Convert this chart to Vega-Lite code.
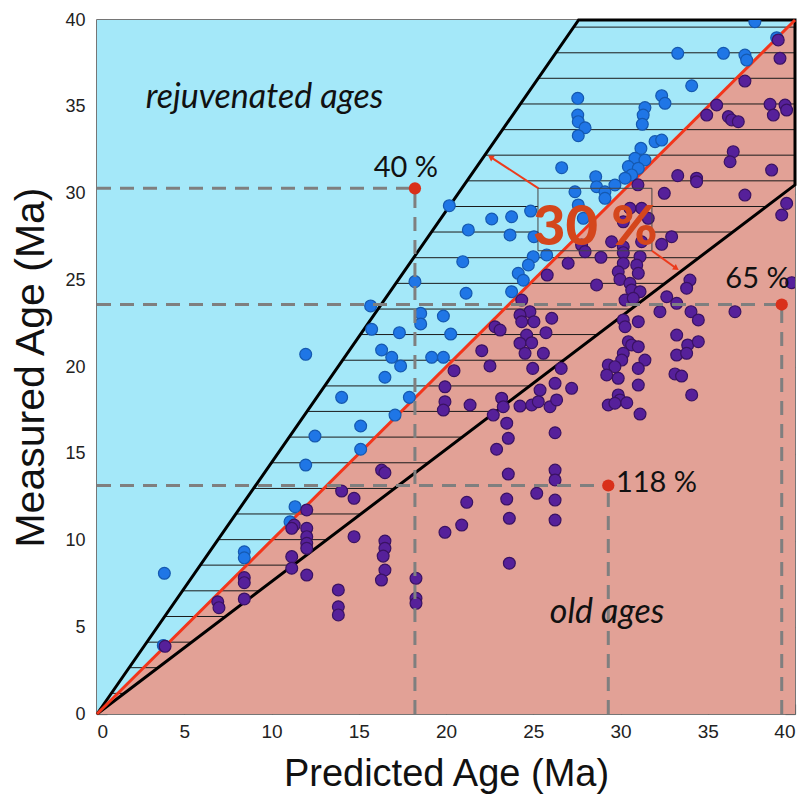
{
  "$schema": "https://vega.github.io/schema/vega-lite/v6.json",
  "width": 698,
  "height": 694,
  "autosize": {"type": "none"},
  "padding": {"left": 97, "top": 20, "right": 8, "bottom": 83},
  "background": "white",
  "config": {"view": {"stroke": "#4a4a4a", "strokeWidth": 1.5}},
  "datasets": {
    "pts": [
      {"x":3.86,"y":8.11,"g":"r"},{"x":3.8,"y":3.95,"g":"r"},{"x":8.44,"y":9.35,"g":"r"},{"x":8.44,"y":9.0,"g":"r"},{"x":11.35,"y":11.95,"g":"r"},{"x":11.06,"y":11.08,"g":"r"},
      {"x":11.96,"y":20.73,"g":"r"},{"x":12.49,"y":16.02,"g":"r"},{"x":11.96,"y":14.35,"g":"r"},{"x":20.96,"y":26.07,"g":"r"},{"x":18.22,"y":24.92,"g":"r"},{"x":21.15,"y":24.25,"g":"r"},
      {"x":15.68,"y":23.52,"g":"r"},{"x":18.55,"y":23.09,"g":"r"},{"x":18.55,"y":22.48,"g":"r"},{"x":19.85,"y":22.94,"g":"r"},{"x":15.74,"y":22.17,"g":"r"},{"x":17.33,"y":21.98,"g":"r"},
      {"x":20.27,"y":21.9,"g":"r"},{"x":16.31,"y":20.98,"g":"r"},{"x":16.89,"y":20.56,"g":"r"},{"x":17.4,"y":20.06,"g":"r"},{"x":19.18,"y":20.56,"g":"r"},{"x":19.85,"y":20.56,"g":"r"},
      {"x":16.5,"y":19.41,"g":"r"},{"x":14.02,"y":18.25,"g":"r"},{"x":17.9,"y":18.25,"g":"r"},{"x":17.08,"y":17.23,"g":"r"},{"x":15.11,"y":16.6,"g":"r"},{"x":15.11,"y":15.26,"g":"r"},
      {"x":25.0,"y":26.36,"g":"r"},{"x":25.77,"y":26.46,"g":"r"},{"x":24.72,"y":25.88,"g":"r"},{"x":24.14,"y":25.4,"g":"r"},{"x":24.43,"y":25.0,"g":"r"},{"x":23.76,"y":24.34,"g":"r"},
      {"x":20.19,"y":29.3,"g":"r"},{"x":22.62,"y":28.53,"g":"r"},{"x":23.76,"y":28.66,"g":"r"},{"x":24.85,"y":28.99,"g":"r"},{"x":21.28,"y":27.9,"g":"r"},{"x":23.67,"y":27.61,"g":"r"},
      {"x":25.04,"y":27.51,"g":"r"},{"x":26.63,"y":31.49,"g":"r"},{"x":37.7,"y":39.9,"g":"r"},{"x":33.28,"y":38.08,"g":"r"},{"x":35.9,"y":38.08,"g":"r"},{"x":37.13,"y":37.98,"g":"r"},
      {"x":37.23,"y":37.69,"g":"r"},{"x":38.95,"y":38.98,"g":"r"},{"x":34.08,"y":36.21,"g":"r"},{"x":27.55,"y":35.49,"g":"r"},{"x":32.36,"y":35.64,"g":"r"},{"x":32.55,"y":35.2,"g":"r"},
      {"x":31.4,"y":34.95,"g":"r"},{"x":31.3,"y":34.52,"g":"r"},{"x":31.25,"y":33.99,"g":"r"},{"x":27.55,"y":34.52,"g":"r"},{"x":27.58,"y":34.14,"g":"r"},{"x":27.97,"y":33.79,"g":"r"},
      {"x":27.58,"y":33.33,"g":"r"},{"x":31.98,"y":32.99,"g":"r"},{"x":32.36,"y":33.08,"g":"r"},{"x":31.17,"y":32.6,"g":"r"},{"x":30.83,"y":32.03,"g":"r"},{"x":31.4,"y":31.93,"g":"r"},
      {"x":30.45,"y":31.55,"g":"r"},{"x":31.02,"y":31.45,"g":"r"},{"x":30.64,"y":31.07,"g":"r"},{"x":30.26,"y":30.88,"g":"r"},{"x":28.58,"y":30.97,"g":"r"},{"x":28.63,"y":30.39,"g":"r"},
      {"x":29.11,"y":30.1,"g":"r"},{"x":29.68,"y":30.49,"g":"r"},{"x":29.11,"y":29.72,"g":"r"},{"x":27.39,"y":30.1,"g":"r"},{"x":27.58,"y":29.34,"g":"r"},{"x":27.87,"y":28.57,"g":"r"},
      {"x":3.9,"y":3.9,"g":"o"},{"x":8.44,"y":7.86,"g":"o"},{"x":8.44,"y":7.57,"g":"o"},{"x":8.44,"y":6.63,"g":"o"},{"x":6.92,"y":6.47,"g":"o"},{"x":6.99,"y":6.13,"g":"o"},
      {"x":12.02,"y":11.76,"g":"o"},{"x":11.3,"y":10.89,"g":"o"},{"x":11.16,"y":10.7,"g":"o"},{"x":12.02,"y":10.7,"g":"o"},{"x":12.02,"y":10.22,"g":"o"},{"x":12.02,"y":9.84,"g":"o"},
      {"x":12.02,"y":9.55,"g":"o"},{"x":11.16,"y":9.07,"g":"o"},{"x":11.16,"y":8.4,"g":"o"},{"x":12.02,"y":8.01,"g":"o"},{"x":14.02,"y":12.85,"g":"o"},{"x":14.73,"y":12.43,"g":"o"},
      {"x":14.73,"y":10.22,"g":"o"},{"x":16.5,"y":9.97,"g":"o"},{"x":16.5,"y":9.55,"g":"o"},{"x":16.4,"y":9.1,"g":"o"},{"x":16.5,"y":8.3,"g":"o"},{"x":16.3,"y":7.72,"g":"o"},
      {"x":13.83,"y":7.15,"g":"o"},{"x":13.83,"y":6.18,"g":"o"},{"x":13.83,"y":5.71,"g":"o"},{"x":18.28,"y":7.82,"g":"o"},{"x":18.28,"y":6.67,"g":"o"},{"x":18.28,"y":6.38,"g":"o"},
      {"x":21.19,"y":12.2,"g":"o"},{"x":19.94,"y":10.47,"g":"o"},{"x":20.9,"y":10.89,"g":"o"},{"x":23.48,"y":12.39,"g":"o"},{"x":23.63,"y":11.28,"g":"o"},{"x":23.63,"y":8.69,"g":"o"},
      {"x":25.2,"y":12.72,"g":"o"},{"x":26.25,"y":12.33,"g":"o"},{"x":26.25,"y":11.18,"g":"o"},{"x":26.25,"y":14.06,"g":"o"},{"x":26.25,"y":13.49,"g":"o"},{"x":25.8,"y":25.3,"g":"o"},
      {"x":24.34,"y":23.86,"g":"o"},{"x":24.81,"y":23.19,"g":"o"},{"x":24.24,"y":23.0,"g":"o"},{"x":24.34,"y":22.61,"g":"o"},{"x":25.04,"y":22.61,"g":"o"},{"x":26.06,"y":22.81,"g":"o"},
      {"x":22.81,"y":22.32,"g":"o"},{"x":23.1,"y":22.13,"g":"o"},{"x":24.62,"y":21.84,"g":"o"},{"x":24.24,"y":21.37,"g":"o"},{"x":24.91,"y":21.4,"g":"o"},{"x":24.53,"y":20.79,"g":"o"},
      {"x":25.73,"y":21.98,"g":"o"},{"x":22.05,"y":20.94,"g":"o"},{"x":22.52,"y":20.06,"g":"o"},{"x":20.46,"y":19.79,"g":"o"},{"x":24.97,"y":19.92,"g":"o"},{"x":25.58,"y":20.79,"g":"o"},
      {"x":26.6,"y":19.92,"g":"o"},{"x":19.94,"y":18.86,"g":"o"},{"x":19.94,"y":18.0,"g":"o"},{"x":19.85,"y":17.52,"g":"o"},{"x":21.38,"y":17.81,"g":"o"},{"x":23.19,"y":18.2,"g":"o"},
      {"x":23.28,"y":17.71,"g":"o"},{"x":22.71,"y":17.23,"g":"o"},{"x":24.24,"y":17.75,"g":"o"},{"x":24.91,"y":17.81,"g":"o"},{"x":25.39,"y":18.67,"g":"o"},{"x":25.29,"y":18.0,"g":"o"},
      {"x":25.96,"y":17.71,"g":"o"},{"x":26.25,"y":19.06,"g":"o"},{"x":26.34,"y":18.1,"g":"o"},{"x":23.48,"y":16.76,"g":"o"},{"x":23.57,"y":15.89,"g":"o"},{"x":22.9,"y":15.26,"g":"o"},
      {"x":26.25,"y":16.21,"g":"o"},{"x":16.31,"y":14.06,"g":"o"},{"x":16.5,"y":13.91,"g":"o"},{"x":23.57,"y":13.83,"g":"o"},{"x":39.04,"y":38.85,"g":"o"},{"x":39.14,"y":37.79,"g":"o"},
      {"x":37.13,"y":36.48,"g":"o"},{"x":35.51,"y":35.1,"g":"o"},{"x":34.94,"y":34.52,"g":"o"},{"x":36.18,"y":34.43,"g":"o"},{"x":36.37,"y":34.24,"g":"o"},{"x":36.75,"y":34.14,"g":"o"},
      {"x":38.57,"y":35.14,"g":"o"},{"x":38.76,"y":34.52,"g":"o"},{"x":39.43,"y":35.1,"g":"o"},{"x":39.52,"y":34.81,"g":"o"},{"x":36.46,"y":32.41,"g":"o"},{"x":36.28,"y":31.83,"g":"o"},
      {"x":38.66,"y":31.35,"g":"o"},{"x":33.28,"y":31.03,"g":"o"},{"x":34.36,"y":30.88,"g":"o"},{"x":34.36,"y":30.68,"g":"o"},{"x":32.51,"y":30.01,"g":"o"},{"x":37.13,"y":29.91,"g":"o"},
      {"x":39.52,"y":29.43,"g":"o"},{"x":39.24,"y":28.76,"g":"o"},{"x":31.0,"y":30.5,"g":"o"},{"x":31.21,"y":29.15,"g":"o"},{"x":31.59,"y":28.57,"g":"o"},{"x":30.54,"y":29.15,"g":"o"},
      {"x":30.16,"y":28.37,"g":"o"},{"x":29.49,"y":27.22,"g":"o"},{"x":30.16,"y":26.93,"g":"o"},{"x":31.21,"y":27.22,"g":"o"},{"x":32.36,"y":27.07,"g":"o"},{"x":32.93,"y":27.51,"g":"o"},
      {"x":27.77,"y":27.03,"g":"o"},{"x":27.0,"y":25.98,"g":"o"},{"x":27.97,"y":26.65,"g":"o"},{"x":28.88,"y":26.32,"g":"o"},{"x":30.16,"y":26.59,"g":"o"},{"x":30.16,"y":25.98,"g":"o"},
      {"x":29.87,"y":25.49,"g":"o"},{"x":29.97,"y":25.05,"g":"o"},{"x":31.12,"y":26.36,"g":"o"},{"x":30.93,"y":25.88,"g":"o"},{"x":31.02,"y":25.4,"g":"o"},{"x":30.54,"y":24.82,"g":"o"},
      {"x":30.64,"y":24.44,"g":"o"},{"x":31.12,"y":24.34,"g":"o"},{"x":30.26,"y":23.86,"g":"o"},{"x":30.73,"y":23.96,"g":"o"},{"x":28.63,"y":24.73,"g":"o"},{"x":33.98,"y":25.01,"g":"o"},
      {"x":33.79,"y":24.54,"g":"o"},{"x":32.65,"y":24.05,"g":"o"},{"x":33.22,"y":23.67,"g":"o"},{"x":32.26,"y":23.19,"g":"o"},{"x":34.04,"y":23.19,"g":"o"},{"x":34.46,"y":22.71,"g":"o"},
      {"x":36.56,"y":23.19,"g":"o"},{"x":39.81,"y":24.86,"g":"o"},{"x":30.16,"y":22.71,"g":"o"},{"x":30.26,"y":22.32,"g":"o"},{"x":31.02,"y":22.61,"g":"o"},{"x":30.45,"y":21.46,"g":"o"},
      {"x":30.64,"y":21.27,"g":"o"},{"x":31.02,"y":21.17,"g":"o"},{"x":30.16,"y":20.79,"g":"o"},{"x":30.07,"y":20.4,"g":"o"},{"x":31.4,"y":20.4,"g":"o"},{"x":31.02,"y":19.92,"g":"o"},
      {"x":29.3,"y":20.12,"g":"o"},{"x":29.68,"y":20.02,"g":"o"},{"x":29.21,"y":19.54,"g":"o"},{"x":29.87,"y":19.35,"g":"o"},{"x":31.02,"y":18.96,"g":"o"},{"x":29.87,"y":18.39,"g":"o"},
      {"x":29.97,"y":18.1,"g":"o"},{"x":29.3,"y":17.81,"g":"o"},{"x":29.68,"y":17.91,"g":"o"},{"x":30.36,"y":17.94,"g":"o"},{"x":31.12,"y":17.29,"g":"o"},{"x":27.2,"y":18.77,"g":"o"},
      {"x":33.22,"y":21.84,"g":"o"},{"x":33.85,"y":21.27,"g":"o"},{"x":34.46,"y":21.46,"g":"o"},{"x":33.22,"y":20.69,"g":"o"},{"x":33.79,"y":20.79,"g":"o"},{"x":33.12,"y":19.6,"g":"o"},
      {"x":33.5,"y":19.48,"g":"o"},{"x":34.08,"y":18.39,"g":"o"}
    ],
    "hatch": [
      {"y":1.19,"xa":0.82,"xb":1.56},{"y":2.67,"xa":1.84,"xb":3.5},{"y":4.14,"xa":2.86,"xb":5.43},{"y":5.62,"xa":3.88,"xb":7.37},
      {"y":7.1,"xa":4.9,"xb":9.31},{"y":8.58,"xa":5.92,"xb":11.25},{"y":10.05,"xa":6.93,"xb":13.18},{"y":11.53,"xa":7.96,"xb":15.12},
      {"y":13.0,"xa":8.97,"xb":17.05},{"y":14.48,"xa":9.99,"xb":18.99},{"y":15.96,"xa":11.01,"xb":20.93},{"y":17.44,"xa":12.03,"xb":22.87},
      {"y":18.91,"xa":13.05,"xb":24.8},{"y":20.39,"xa":14.07,"xb":26.74},{"y":21.87,"xa":15.09,"xb":28.68},{"y":23.34,"xa":16.1,"xb":30.61},
      {"y":24.82,"xa":17.13,"xb":32.55},{"y":26.3,"xa":18.15,"xb":34.49},{"y":27.78,"xa":19.17,"xb":25.27},{"y":27.78,"xa":31.8,"xb":36.43},
      {"y":29.25,"xa":20.18,"xb":25.27},{"y":29.25,"xa":31.8,"xb":38.36},{"y":30.73,"xa":21.2,"xb":40},{"y":32.21,"xa":22.22,"xb":40},
      {"y":33.68,"xa":23.24,"xb":40},{"y":35.16,"xa":24.26,"xb":40},{"y":36.64,"xa":25.28,"xb":40},{"y":38.11,"xa":26.3,"xb":40},{"y":39.59,"xa":27.32,"xb":40}
    ]
  },
  "layer": [
    {
      "layer": [
        {
          "data": {"values": [{"x": 0, "y": 0}, {"x": 40, "y": 40}]},
          "mark": {"type": "area", "color": "#a4e8f9", "opacity": 1},
          "encoding": {
            "x": {"field": "x", "type": "quantitative", "scale": {"domain": [0, 40], "nice": false},
              "axis": {"values": [0,5,10,15,20,25,30,35,40], "title": "Predicted Age (Ma)", "grid": false, "domain": false,
                "tickSize": -10, "tickColor": "#666", "tickWidth": 1.2, "labelFont": "Liberation Sans", "labelFontSize": 19,
                "labelColor": "#222", "labelPadding": 18, "titleFont": "Liberation Sans", "titleFontSize": 38,
                "titleFontWeight": "normal", "titleColor": "#111", "titlePadding": 14}},
            "y": {"field": "y", "type": "quantitative", "scale": {"domain": [0, 40], "nice": false},
              "axis": {"values": [0,5,10,15,20,25,30,35,40], "title": "Measured Age (Ma)", "grid": false, "domain": false,
                "tickSize": -10, "tickColor": "#666", "tickWidth": 1.2, "labelFont": "Liberation Sans", "labelFontSize": 18,
                "labelColor": "#222", "labelPadding": 22, "titleFont": "Liberation Sans", "titleFontSize": 41,
                "titleFontWeight": "normal", "titleColor": "#111", "titlePadding": 12}},
            "y2": {"datum": 40}
          }
        },
        {
          "data": {"values": [{"x": 0, "y": 0}, {"x": 40, "y": 40}]},
          "mark": {"type": "area", "color": "#e2a196", "opacity": 1},
          "encoding": {
            "x": {"field": "x", "type": "quantitative"},
            "y": {"field": "y", "type": "quantitative"},
            "y2": {"datum": 0}
          }
        },
        {
          "data": {"name": "hatch"},
          "mark": {"type": "rule", "color": "#1a1a1a", "strokeWidth": 1},
          "encoding": {
            "x": {"field": "xa", "type": "quantitative"},
            "x2": {"field": "xb"},
            "y": {"field": "y", "type": "quantitative"}
          }
        },
        {
          "data": {"values": [{"x": 0, "y": 0, "o": 1}, {"x": 27.6, "y": 40, "o": 2}, {"x": 40, "y": 40, "o": 3}, {"x": 40, "y": 30.5, "o": 4}, {"x": 0, "y": 0, "o": 5}]},
          "mark": {"type": "line", "color": "#000", "strokeWidth": 3},
          "encoding": {
            "x": {"field": "x", "type": "quantitative"},
            "y": {"field": "y", "type": "quantitative"},
            "order": {"field": "o", "type": "quantitative"}
          }
        },
        {
          "data": {"values": [{"x": 0, "y": 0, "x2": 40, "y2": 40}]},
          "mark": {"type": "rule", "color": "#f2361c", "strokeWidth": 3},
          "encoding": {
            "x": {"field": "x", "type": "quantitative"},
            "y": {"field": "y", "type": "quantitative"},
            "x2": {"field": "x2"},
            "y2": {"field": "y2"}
          }
        },
        {
          "data": {"name": "pts"},
          "mark": {"type": "circle", "size": 140, "opacity": 1, "strokeWidth": 1.2, "clip": true},
          "encoding": {
            "x": {"field": "x", "type": "quantitative"},
            "y": {"field": "y", "type": "quantitative"},
            "color": {"field": "g", "type": "nominal", "scale": {"domain": ["r", "o"], "range": ["#1f76e6", "#56209a"]}, "legend": null},
            "stroke": {"field": "g", "type": "nominal", "scale": {"domain": ["r", "o"], "range": ["#1559b0", "#3a1262"]}, "legend": null}
          }
        },
        {
          "data": {"values": [
            {"x": 0, "y": 30.3, "x2": 18.22, "y2": 30.3}, {"x": 18.22, "y": 0, "x2": 18.22, "y2": 30.3},
            {"x": 0, "y": 23.6, "x2": 39.24, "y2": 23.6}, {"x": 39.24, "y": 0, "x2": 39.24, "y2": 23.6},
            {"x": 0, "y": 13.17, "x2": 29.3, "y2": 13.17}, {"x": 29.3, "y": 0, "x2": 29.3, "y2": 13.17}
          ]},
          "mark": {"type": "rule", "color": "#7f7f7f", "strokeWidth": 3, "strokeDash": [14, 9]},
          "encoding": {
            "x": {"field": "x", "type": "quantitative"},
            "y": {"field": "y", "type": "quantitative"},
            "x2": {"field": "x2"},
            "y2": {"field": "y2"}
          }
        },
        {
          "data": {"values": [{"x": 18.22, "y": 30.3}, {"x": 39.24, "y": 23.6}, {"x": 29.3, "y": 13.17}]},
          "mark": {"type": "circle", "size": 150, "color": "#d9301a", "opacity": 1},
          "encoding": {
            "x": {"field": "x", "type": "quantitative"},
            "y": {"field": "y", "type": "quantitative"}
          }
        },
        {
          "data": {"values": [{"x": 25.27, "x2": 31.8, "y": 26.7, "y2": 30.3}]},
          "mark": {"type": "rect", "fillOpacity": 0, "stroke": "#444", "strokeWidth": 1},
          "encoding": {
            "x": {"field": "x", "type": "quantitative"},
            "x2": {"field": "x2"},
            "y": {"field": "y", "type": "quantitative"},
            "y2": {"field": "y2"}
          }
        },
        {
          "data": {"values": [{"x": 25.3, "y": 30.3, "x2": 22.6, "y2": 32.07}, {"x": 31.8, "y": 26.7, "x2": 33.15, "y2": 25.72}]},
          "mark": {"type": "rule", "color": "#ec3b1c", "strokeWidth": 2},
          "encoding": {
            "x": {"field": "x", "type": "quantitative"},
            "y": {"field": "y", "type": "quantitative"},
            "x2": {"field": "x2"},
            "y2": {"field": "y2"}
          }
        },
        {
          "data": {"values": [{"x": 22.55, "y": 32.1}]},
          "mark": {"type": "point", "shape": "triangle-up", "angle": 303, "filled": true, "size": 45, "color": "#ec3b1c", "opacity": 1},
          "encoding": {
            "x": {"field": "x", "type": "quantitative"},
            "y": {"field": "y", "type": "quantitative"}
          }
        },
        {
          "data": {"values": [{"x": 33.2, "y": 25.68}]},
          "mark": {"type": "point", "shape": "triangle-up", "angle": 124, "filled": true, "size": 45, "color": "#ec3b1c", "opacity": 1},
          "encoding": {
            "x": {"field": "x", "type": "quantitative"},
            "y": {"field": "y", "type": "quantitative"}
          }
        },
        {
          "data": {"values": [{"x": 9.6, "y": 34.93, "t": "rejuvenated ages"}, {"x": 29.23, "y": 5.24, "t": "old ages"}]},
          "mark": {"type": "text", "font": "Lato", "fontStyle": "italic", "fontSize": 34, "color": "#111", "align": "center", "baseline": "alphabetic"},
          "encoding": {
            "x": {"field": "x", "type": "quantitative"},
            "y": {"field": "y", "type": "quantitative"},
            "text": {"field": "t"}
          }
        },
        {
          "data": {"values": [{"x": 17.7, "y": 30.97, "t": "40 %"}, {"x": 37.85, "y": 24.54, "t": "65 %"}, {"x": 32.06, "y": 12.8, "t": "118 %"}]},
          "mark": {"type": "text", "font": "Lato", "fontSize": 29, "color": "#111", "align": "center", "baseline": "alphabetic"},
          "encoding": {
            "x": {"field": "x", "type": "quantitative"},
            "y": {"field": "y", "type": "quantitative"},
            "text": {"field": "t"}
          }
        },
        {
          "data": {"values": [{"x": 28.55, "y": 27.03, "t": "30 %"}]},
          "mark": {"type": "text", "font": "Lato", "fontWeight": 900, "fontSize": 56, "color": "#d4461c", "align": "center", "baseline": "alphabetic"},
          "encoding": {
            "x": {"field": "x", "type": "quantitative"},
            "y": {"field": "y", "type": "quantitative"},
            "text": {"field": "t"}
          }
        }
      ]
    },
    {
      "data": {"values": [{"x": 0, "y": 0}]},
      "mark": {"type": "point", "opacity": 0},
      "encoding": {
        "x": {"field": "x", "type": "quantitative",
          "axis": {"orient": "top", "values": [0,5,10,15,20,25,30,35,40], "labels": false, "domain": false, "grid": false, "title": null, "tickSize": -10, "tickColor": "#666", "tickWidth": 1.2}},
        "y": {"field": "y", "type": "quantitative",
          "axis": {"orient": "right", "values": [0,5,10,15,20,25,30,35,40], "labels": false, "domain": false, "grid": false, "title": null, "tickSize": -10, "tickColor": "#666", "tickWidth": 1.2}}
      }
    }
  ],
  "resolve": {"axis": {"x": "independent", "y": "independent"}}
}
